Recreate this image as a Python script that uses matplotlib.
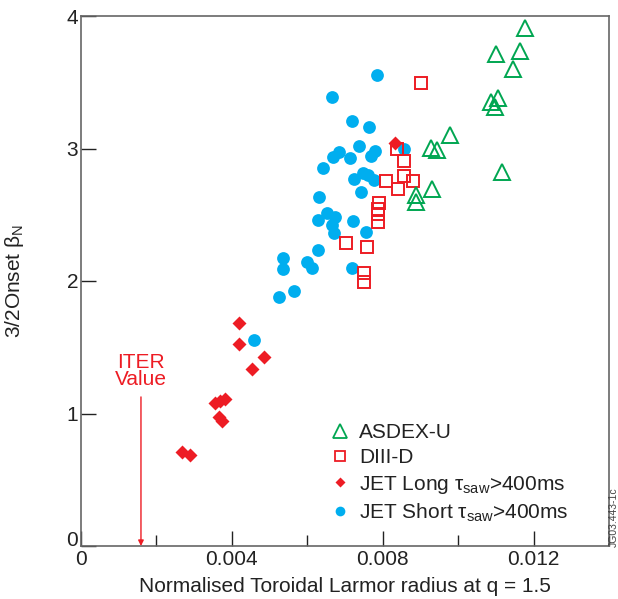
import matplotlib
matplotlib.use("Agg")
import matplotlib.pyplot as plt
from matplotlib.lines import Line2D
from matplotlib.ticker import MultipleLocator

plt.rcParams['font.family'] = ['Liberation Sans', 'DejaVu Sans']
plt.rcParams['mathtext.fontset'] = 'custom'
plt.rcParams['mathtext.rm'] = 'Liberation Sans'
plt.rcParams['mathtext.it'] = 'Liberation Sans:italic'

# ---- data ----
asdex_x = [0.011785, 0.011015, 0.011652, 0.011467, 0.011068, 0.010883, 0.010989,
           0.009794, 0.009290, 0.009449, 0.011175, 0.009317, 0.008892, 0.008892]
asdex_y = [3.909, 3.713, 3.736, 3.600, 3.381, 3.351, 3.313,
           3.102, 3.004, 2.989, 2.823, 2.694, 2.649, 2.596]

diiid_x = [0.009025, 0.008388, 0.008573, 0.008573, 0.008812, 0.008096, 0.008414,
           0.007910, 0.007883, 0.007883, 0.007883, 0.007034, 0.007591, 0.007512, 0.007512]
diiid_y = [3.494, 2.996, 2.906, 2.792, 2.755, 2.755, 2.694,
           2.589, 2.543, 2.506, 2.445, 2.287, 2.257, 2.060, 1.992]

jet_long_x = [0.008335, 0.004194, 0.004194, 0.004857, 0.004539, 0.003557, 0.003690,
              0.003822, 0.003663, 0.003743, 0.002681, 0.002893]
jet_long_y = [3.042, 1.683, 1.525, 1.426, 1.336, 1.079, 1.094,
              1.109, 0.974, 0.943, 0.709, 0.687]

jet_short_x = [0.007857, 0.006662, 0.007193, 0.007644, 0.007379, 0.006848, 0.006689,
               0.007140, 0.007804, 0.007697, 0.008573, 0.006423, 0.007485, 0.007618,
               0.007246, 0.007777, 0.007432, 0.006317, 0.006530, 0.006742, 0.006291,
               0.007220, 0.006662, 0.006715, 0.007565, 0.006291, 0.005362, 0.005362,
               0.005999, 0.006131, 0.007193, 0.005654, 0.005256, 0.004592]
jet_short_y = [3.555, 3.389, 3.208, 3.162, 3.019, 2.974, 2.936,
               2.928, 2.981, 2.943, 2.996, 2.853, 2.815, 2.800,
               2.770, 2.762, 2.672, 2.634, 2.513, 2.483, 2.460,
               2.453, 2.423, 2.362, 2.370, 2.234, 2.174, 2.091,
               2.143, 2.098, 2.098, 1.925, 1.879, 1.555]

iter_value = 0.00159
x_ticks = [0, 0.004, 0.008, 0.012]
x_tick_labels = ['0', '0.004', '0.008', '0.012']
y_ticks = [0, 1, 2, 3, 4]

GREEN = '#00A651'
RED = '#ED1C24'
BLUE = '#00AEEF'
TXT = '#222222'
FS = 15

fig = plt.figure(figsize=(6.18, 5.99), dpi=100)
ax = fig.add_axes([81/618, 1-546/599, (609-81)/618, (546-16)/599])

ax.plot(jet_short_x, jet_short_y, 'o', ms=9.2, color=BLUE, mec='none', zorder=3)
ax.plot(diiid_x, diiid_y, 's', ms=8.6, mfc='none', mec=RED, mew=1.4, zorder=4)
ax.plot(jet_long_x, jet_long_y, 'D', ms=7.0, color=RED, mec='none', zorder=5)
ax.plot(asdex_x, asdex_y, '^', ms=11.5, mfc='none', mec=GREEN, mew=1.4, zorder=4)

ax.set_xlim(0, 0.014)
ax.set_ylim(0, 4)
ax.set_xticks(x_ticks)
ax.set_xticklabels(x_tick_labels)
ax.xaxis.set_minor_locator(MultipleLocator(0.002))
ax.set_yticks(y_ticks)
ax.tick_params(which='major', direction='in', length=11, width=1.0, labelsize=FS,
               color=TXT, labelcolor=TXT)
ax.tick_params(which='minor', direction='in', length=8, width=1.0, color=TXT)
ax.tick_params(axis='x', pad=3)
ax.tick_params(axis='y', pad=2)
for s in ax.spines.values():
    s.set_color('#666666')
    s.set_linewidth(1.2)
# the "0" on the y axis sits just above the corner
ax.get_yticklabels()[0].set_verticalalignment('baseline')

ax.set_xlabel('Normalised Toroidal Larmor radius at q = 1.5', fontsize=FS,
              color=TXT, labelpad=6)
ax.set_ylabel('3/2Onset β$_\\mathrm{N}$', fontsize=FS, color=TXT, labelpad=29)

# ITER annotation
ax.annotate('', xy=(iter_value, 0.0), xytext=(iter_value, 1.125),
            arrowprops=dict(arrowstyle='-|>', color=RED, lw=1.0,
                            mutation_scale=8, shrinkA=0, shrinkB=0))
ax.text(iter_value, 1.32, 'ITER\nValue', color=RED, fontsize=FS, ha='center',
        va='center', linespacing=0.9)

handles = [
    Line2D([], [], ls='none', marker='^', ms=10, mfc='none', mec=GREEN, mew=1.3),
    Line2D([], [], ls='none', marker='s', ms=6.5, mfc='none', mec=RED, mew=1.3),
    Line2D([], [], ls='none', marker='D', ms=5.5, color=RED, mec='none'),
    Line2D([], [], ls='none', marker='o', ms=7, color=BLUE, mec='none'),
]
labels = ['ASDEX-U', 'DIII-D', 'JET Long τ$_{\\mathrm{saw}}$>400ms',
          'JET Short τ$_{\\mathrm{saw}}$>400ms']
leg = ax.legend(handles, labels, loc='upper left', bbox_to_anchor=(0.47, 0.232),
                frameon=False, fontsize=FS, handlelength=1.0, handletextpad=0.45,
                labelspacing=0.3, borderaxespad=0, borderpad=0)
for t in leg.get_texts():
    t.set_color(TXT)

fig.text(613.5/618, 1-547/599, 'JG03.443-1c', rotation=90, fontsize=7.5, color='#444444',
         ha='center', va='bottom')

fig.savefig('out.png', dpi=100)
